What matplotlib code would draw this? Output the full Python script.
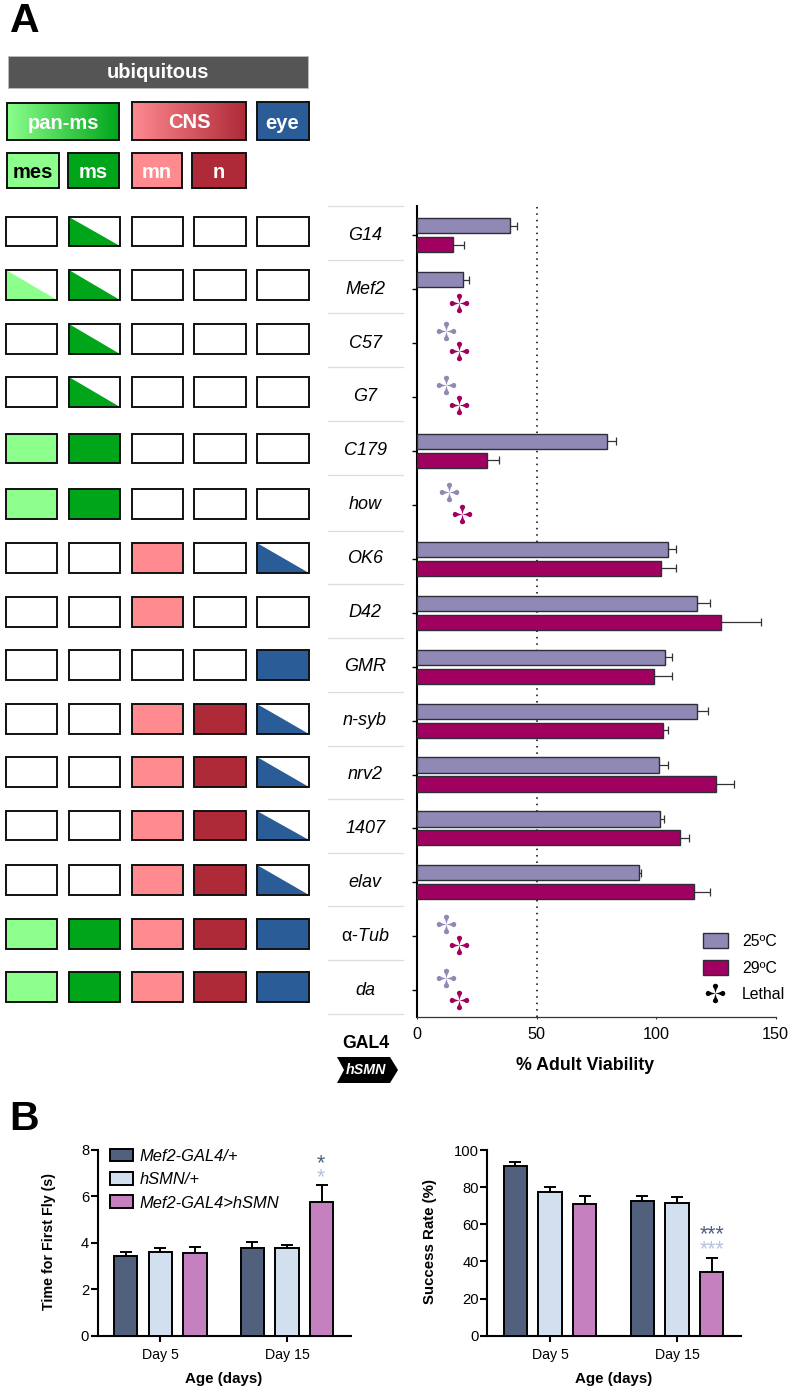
import numpy as np
import matplotlib
matplotlib.use("Agg")
import matplotlib.pyplot as plt
from matplotlib.path import Path
from matplotlib.patches import Rectangle, Polygon, Patch
from matplotlib.lines import Line2D
from matplotlib.colors import LinearSegmentedColormap
from matplotlib.transforms import ScaledTranslation

plt.rcParams['font.family'] = ['Liberation Sans', 'DejaVu Sans']
plt.rcParams['mathtext.fontset'] = 'custom'
plt.rcParams['mathtext.it'] = 'Liberation Sans:italic'
plt.rcParams['mathtext.rm'] = 'Liberation Sans'

# ---------- data, panel A ----------
gal4_lines = ['G14', 'Mef2', 'C57', 'G7', 'C179', 'how', 'OK6', 'D42', 'GMR',
              'n-syb', 'nrv2', '1407', 'elav', 'α-$\\mathit{Tub}$', 'da']
n = np.nan
viability_25 = [38.8, 19.3, n, n, 79.4, n, 105.1, 117.2, 103.5, 116.9, 101.0, 101.6, 92.8, n, n]
error_top_25 = [41.6, 21.5, n, n, 83.2, n, 108.2, 122.5, 106.7, 121.8, 104.8, 103.3, 93.7, n, n]
viability_29 = [14.9, n, n, n, 29.2, n, 101.9, 127.0, 99.1, 102.8, 125.0, 110.0, 115.6, n, n]
error_top_29 = [19.5, n, n, n, 34.2, n, 108.4, 143.9, 106.5, 104.9, 132.7, 113.7, 122.4, n, n]
lethal_25_row = [2, 3, 5, 13, 14]
lethal_25_x = [11.9, 11.9, 13.2, 11.9, 11.9]
lethal_29_row = [1, 2, 3, 5, 13, 14]
lethal_29_x = [17.6, 17.6, 17.6, 18.7, 17.6, 17.6]
tissues = ['mes', 'ms', 'mn', 'n', 'eye']
expression = [  # 0 none, 1 full, 2 partial
    [0, 2, 0, 0, 0], [2, 2, 0, 0, 0], [0, 2, 0, 0, 0], [0, 2, 0, 0, 0],
    [1, 1, 0, 0, 0], [1, 1, 0, 0, 0], [0, 0, 1, 0, 2], [0, 0, 1, 0, 0],
    [0, 0, 0, 0, 1], [0, 0, 1, 1, 2], [0, 0, 1, 1, 2], [0, 0, 1, 1, 2],
    [0, 0, 1, 1, 2], [1, 1, 1, 1, 1], [1, 1, 1, 1, 1]]

# ---------- data, panel B ----------
groups = ['Day 5', 'Day 15']
genotypes = ['Mef2-GAL4/+', 'hSMN/+', 'Mef2-GAL4>hSMN']
fly_time = [[3.44, 3.77], [3.58, 3.77], [3.56, 5.76]]
fly_time_top = [[3.61, 4.04], [3.78, 3.91], [3.81, 6.47]]
success = [[91.2, 72.4], [77.4, 71.6], [70.7, 34.1]]
success_top = [[93.7, 75.2], [80.1, 74.7], [75.2, 41.8]]

# ---------- style ----------
W, H = 793, 1392
C25, C29 = '#9189B5', '#A0005F'
TISSUE_COL = {'mes': '#8CFF8C', 'ms': '#00A51A', 'mn': '#FF8A90', 'n': '#AE2A38', 'eye': '#2A5C98'}
GENO_COL = ['#50607D', '#D2DFEE', '#C480BF']
STAR_DARK, STAR_LIGHT = '#50607D', '#B4C4DC'

fig = plt.figure(figsize=(W / 100, H / 100), dpi=100)
bg = fig.add_axes([0, 0, 1, 1], zorder=-1)
bg.set_axis_off()


def axes_px(x0, x1, ytop, ybot):
    a = fig.add_axes([x0 / W, 1 - ybot / H, (x1 - x0) / W, (ybot - ytop) / H])
    a.patch.set_alpha(0)
    for s in ('top', 'right'):
        a.spines[s].set_visible(False)
    return a


def gradient_box(x0, x1, y0, y1, c0, c1):
    cmap = LinearSegmentedColormap.from_list('g', [c0, c1])
    bg.imshow(np.linspace(0, 1, 256)[None, :], cmap=cmap, extent=(x0, x1, y1, y0), aspect='auto', zorder=1)
    bg.add_patch(Rectangle((x0, y0), x1 - x0, y1 - y0, fc='none', ec='#111111', lw=1.4, zorder=2))


def solid_box(x0, x1, y0, y1, color, ec='#111111', lw=1.4):
    bg.add_patch(Rectangle((x0, y0), x1 - x0, y1 - y0, fc=color, ec=ec, lw=lw, zorder=2))


def label(x, y, s, size=14.5, color='white', weight='bold', **kw):
    bg.text(x, y, s, fontsize=size, color=color, fontweight=weight, ha='center', va='center', zorder=3, **kw)


# ---------- schematic ----------
gradient_box(7, 119, 103, 140, TISSUE_COL['mes'], TISSUE_COL['ms'])
gradient_box(132, 246, 102, 140, TISSUE_COL['mn'], TISSUE_COL['n'])
solid_box(257, 309, 102, 140, TISSUE_COL['eye'])
solid_box(7.5, 308, 55.5, 88, '#555555', ec='#BBBBBB', lw=0.6)
solid_box(7, 59, 153, 188, TISSUE_COL['mes'])
solid_box(68, 119, 153, 188, TISSUE_COL['ms'])
solid_box(132, 182, 153, 188, TISSUE_COL['mn'])
solid_box(192, 246, 153, 188, TISSUE_COL['n'])
label(158, 73, 'ubiquitous')
label(63, 123.5, 'pan-ms')
label(189, 122.5, 'CNS')
label(282, 123.5, 'eye')
label(33, 172.5, 'mes', color='black')
label(93, 172.5, 'ms')
label(157, 172.5, 'mn')
label(219, 172.5, 'n')
bg.text(25, 21, 'A', fontsize=29.5, fontweight='bold', ha='center', va='center')
bg.text(24.5, 1118.5, 'B', fontsize=29.5, fontweight='bold', ha='center', va='center')

box_centres = [231.5, 285, 339, 392, 448.5, 504, 558, 612, 665, 719, 772, 825.5, 880, 934, 987]
col_left = [5.5, 68.5, 131.5, 194, 257]
box_w, box_h = 51.5, 29.5
for r, row in enumerate(expression):
    yc = box_centres[r]
    for c, code in enumerate(row):
        x0, y0 = col_left[c], yc - box_h / 2
        col = TISSUE_COL[tissues[c]]
        if code == 1:
            bg.add_patch(Rectangle((x0, y0), box_w, box_h, fc=col, ec='none', zorder=1))
        elif code == 2:
            bg.add_patch(Polygon([(x0, y0), (x0, y0 + box_h), (x0 + box_w, y0 + box_h)], fc=col, ec='none', zorder=1))
        bg.add_patch(Rectangle((x0, y0), box_w, box_h, fc='none', ec='#111111', lw=1.4, zorder=2))

sep_y = [206, 259.5, 313, 367, 421, 475, 531, 584, 638, 692, 746, 799, 853, 906, 960, 1014]
for y in sep_y:
    bg.plot([328, 403], [y, y], color='#DDDDDD', lw=0.9, zorder=1)

label(365.7, 1043, 'GAL4', size=12.7, color='black')
bg.add_patch(Polygon([(337, 1057), (390, 1057), (398, 1070), (390, 1083), (337, 1083), (344, 1070)], fc='black', ec='none'))
label(365.5, 1070, 'hSMN', size=10.3, style='italic')

bg.set_xlim(0, W)
bg.set_ylim(H, 0)

# ---------- panel A bars ----------
arm = np.array([(0, 0), (0.06, 0.25), (0.12, 0.45), (0.25, 0.66), (0.27, 0.8), (0.17, 0.94), (0, 1),
                (-0.17, 0.94), (-0.27, 0.8), (-0.25, 0.66), (-0.12, 0.45), (-0.06, 0.25)])
verts, codes = [], []
for k in range(4):
    t = k * np.pi / 2
    rot = np.array([[np.cos(t), -np.sin(t)], [np.sin(t), np.cos(t)]])
    pts = arm @ rot.T
    verts += list(map(tuple, pts)) + [(0, 0)]
    codes += [Path.MOVETO] + [Path.LINETO] * (len(arm) - 1) + [Path.CLOSEPOLY]
LETHAL = Path(verts, codes)

ax = axes_px(417.3, 775.7, 206, 1016.7)
rows = np.arange(len(gal4_lines))
off, bar_h = 0.176, 0.28
ax.axvline(50, color='black', lw=1.1, ls=(0, (1, 3.2)), zorder=1)
for vals, tops, sign, col in ((viability_25, error_top_25, -1, C25), (viability_29, error_top_29, 1, C29)):
    v, t = np.array(vals), np.array(tops)
    ypos = rows + sign * off
    ax.barh(ypos, v, height=bar_h, color=col, edgecolor='#2E2E3A', lw=1.0, zorder=3)
    ebar = ax.errorbar(v, ypos, xerr=[np.zeros_like(v), t - v], fmt='none', ecolor='#333333',
                       elinewidth=0.9, capsize=2.9, capthick=0.9, zorder=2)
    ebar[1][0].set_visible(False)

lethal_25_off = -0.23
lethal_29_off = [0.25, 0.15, 0.15, 0.17, 0.16, 0.18]
ax.plot(lethal_25_x, np.array(lethal_25_row) + lethal_25_off, ls='none', marker=LETHAL, ms=14.2,
        mfc=C25, mec='none', zorder=4)
ax.plot(lethal_29_x, np.array(lethal_29_row) + np.array(lethal_29_off), ls='none', marker=LETHAL, ms=14.2,
        mfc=C29, mec='none', zorder=4)

ax.set_xlim(0, 150)
ax.set_ylim(14.49, -0.54)
ax.set_xticks([0, 50, 100, 150])
ax.tick_params(axis='x', length=1.5, width=0.8, pad=6, labelsize=11.7, color='#333333')
ax.set_yticks(rows)
ax.set_yticklabels(gal4_lines, fontsize=13, style='italic', ha='center')
ax.tick_params(axis='y', length=3.6, width=1.0, pad=34)
ax.get_yticklabels()[13].set_fontstyle('normal')
lift = ScaledTranslation(0, 2 / 100, fig.dpi_scale_trans)
for lbl in ax.get_yticklabels():
    lbl.set_transform(lbl.get_transform() + lift)
ax.spines['left'].set_linewidth(1.5)
ax.spines['bottom'].set_linewidth(0.9)
ax.spines['bottom'].set_color('#333333')
ax.set_xlabel('% Adult Viability', fontsize=12.8, fontweight='bold', va='center', ha='center')
ax.xaxis.set_label_coords(585, 1065, transform=bg.transData)

handles = [Patch(fc=C25, ec='#2E2E3A', lw=1.0, label='25ºC'),
           Patch(fc=C29, ec='#2E2E3A', lw=1.0, label='29ºC'),
           Line2D([], [], ls='none', marker=LETHAL, ms=14.2, mfc='black', mec='none', label='Lethal')]
ax.legend(handles=handles, loc='upper left', bbox_to_anchor=(702.7, 933), bbox_transform=bg.transData,
          frameon=False, fontsize=11.4, borderpad=0, borderaxespad=0, handlelength=1.6, handleheight=1.12,
          labelspacing=0.66, handletextpad=0.88)


# ---------- panel B ----------
def panel_b(x0, x1, top, vals, tops, ymax, yticks, ylabel, ylabel_xy, xlabel_xy, tick_size, ylab_size):
    a = axes_px(x0, x1, top, 1335.7)
    group_x = [0, 3.665]
    for i in range(3):
        xs = np.array(group_x) + (i - 1)
        a.bar(xs, vals[i], width=0.675, color=GENO_COL[i], edgecolor='black', lw=1.4, zorder=3)
        v, t = np.array(vals[i]), np.array(tops[i])
        eb = a.errorbar(xs, v, yerr=[np.zeros(2), t - v], fmt='none', ecolor='black',
                        elinewidth=1.4, capsize=4.6, capthick=1.4, zorder=2)
        eb[1][0].set_visible(False)
    a.set_xlim(-1.81, 5.505)
    a.set_ylim(0, ymax)
    a.set_xticks(group_x, groups)
    a.set_yticks(yticks)
    a.tick_params(axis='x', length=4.5, width=1.5, pad=4, labelsize=10.2)
    a.tick_params(axis='y', length=5, width=1.5, pad=1.2, labelsize=tick_size)
    a.spines['left'].set_linewidth(1.5)
    a.spines['bottom'].set_linewidth(1.5)
    a.set_ylabel(ylabel, fontsize=ylab_size, fontweight='bold', va='center', ha='center')
    a.yaxis.set_label_coords(*ylabel_xy, transform=bg.transData)
    a.set_xlabel('Age (days)', fontsize=10.9, fontweight='bold', va='center', ha='center')
    a.xaxis.set_label_coords(*xlabel_xy, transform=bg.transData)
    return a, group_x


a1, gx1 = panel_b(97.7, 350.7, 1149.7, fly_time, fly_time_top, 8, [0, 2, 4, 6, 8],
                  'Time for First Fly (s)', (49, 1241), (224, 1378.7), 10.6, 10.3)
a1.text(gx1[1] + 0.97, 7.17, '*', color=STAR_DARK, fontsize=15.5, ha='center', va='baseline', zorder=5)
a1.text(gx1[1] + 0.97, 6.54, '*', color=STAR_LIGHT, fontsize=15.5, ha='center', va='baseline', zorder=5)
a1.legend(handles=[Patch(fc=GENO_COL[i], ec='black', lw=1.4, label=genotypes[i]) for i in range(3)],
          loc='upper left', bbox_to_anchor=(110, 1148.5), bbox_transform=bg.transData, frameon=False,
          prop={'size': 11.9, 'style': 'italic'}, borderpad=0, borderaxespad=0, handlelength=1.4,
          handleheight=0.83, labelspacing=0.5, handletextpad=0.38)

a2, gx2 = panel_b(487.3, 740.7, 1150, success, success_top, 100, [0, 20, 40, 60, 80, 100],
                  'Success Rate (%)', (430, 1241.7), (613.7, 1378.7), 10.6, 10.8)
a2.text(gx2[1] + 1.02, 51.2, '***', color=STAR_DARK, fontsize=15.5, ha='center', va='baseline', zorder=5)
a2.text(gx2[1] + 1.02, 43.1, '***', color=STAR_LIGHT, fontsize=15.5, ha='center', va='baseline', zorder=5)

fig.savefig('out.png', dpi=100)
